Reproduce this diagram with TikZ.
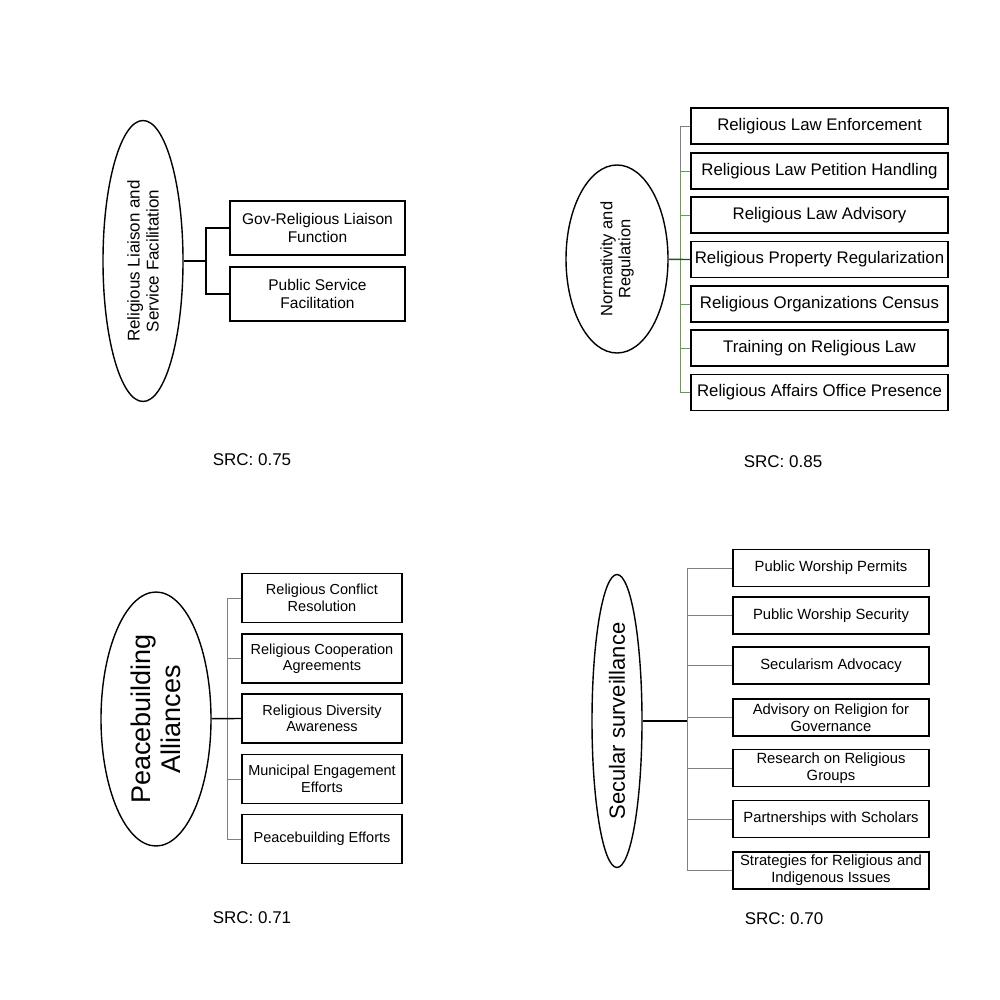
\documentclass[tikz,border=0pt]{standalone}
\usepackage{fontspec}
\setmainfont{Liberation Sans}
\usetikzlibrary{shapes.geometric}
\definecolor{treegreen}{RGB}{96,160,70}
\definecolor{treedark}{RGB}{40,80,40}

\begin{document}
\begin{tikzpicture}[x=1pt,y=-1pt]
\tikzstyle{topic}=[draw=black,line width=1.4pt,ellipse,inner sep=0pt,rotate=90,align=center]
\tikzstyle{item}=[draw=black,line width=1.8pt,rectangle,inner sep=0pt,align=center]
\tikzstyle{trunk}=[line width=1.4pt]
\tikzstyle{branch}=[line width=0.8pt,draw=gray]
\tikzstyle{score}=[font=\fontsize{17}{20}\selectfont]
\useasboundingbox[fill=white] (0,0) rectangle (1000,1000);

% liaison
\node[topic,minimum width=281,minimum height=80,font=\fontsize{17}{19}\selectfont] (liaison) at (143,261) {Religious Liaison and\\Service Facilitation};
\coordinate (fork1) at (206,261);
\draw[trunk] (liaison) -- (fork1);
\foreach \name/\y/\txt in {govliaison/228/Gov-Religious Liaison\\Function, pubservice/294/Public Service\\Facilitation}
{
\node[item,minimum width=175,minimum height=54,font=\fontsize{15.5}{18}\selectfont] (\name) at (317.5,\y) {\txt};
\draw[trunk] (fork1) |- (\name.west);
}
\node[score] (src1) at (252,460) {SRC: 0.75};

% normativity
\node[topic,minimum width=188,minimum height=102,font=\fontsize{16.5}{18}\selectfont] (norm) at (617,259) {Normativity and\\Regulation};
\coordinate (fork2) at (680,259.5);
\foreach \name/\y/\txt in {lawenf/126/Religious Law Enforcement, petition/171/Religious Law Petition Handling, advisory/215/Religious Law Advisory, property/259.5/Religious Property Regularization, census/304/Religious Organizations Census, training/348/Training on Religious Law, office/392.5/Religious Affairs Office Presence}
{
\node[item,minimum width=257,minimum height=36,font=\fontsize{16.8}{18}\selectfont] (\name) at (819.5,\y) {\txt};
}
\foreach \name in {petition,advisory,census,training,office}
\draw[branch,treegreen] (fork2) |- (\name.west);
\draw[branch] (petition.west -| fork2) |- (lawenf.west);
\draw[trunk,treedark] (norm) -- (property.west);
\node[score] (src2) at (783,462) {SRC: 0.85};

% peacebuilding
\node[topic,minimum width=254,minimum height=110,font=\fontsize{27}{30}\selectfont] (peace) at (156,719) {Peacebuilding\\Alliances};
\coordinate (fork3) at (227,719);
\foreach \name/\y/\txt in {conflict/598/Religious Conflict\\Resolution, coop/658.5/Religious Cooperation\\Agreements, diversity/718.5/Religious Diversity\\Awareness, municipal/779/Municipal Engagement\\Efforts, peaceeff/839/Peacebuilding Efforts}
{
\node[item,minimum width=160,minimum height=49,font=\fontsize{14.5}{16.5}\selectfont] (\name) at (322,\y) {\txt};
\draw[branch] (fork3) |- (\name.west);
}
\draw[trunk] (peace) -- (diversity.west);
\node[score] (src3) at (252,918) {SRC: 0.71};

% secular
\node[topic,minimum width=293,minimum height=50,font=\fontsize{22}{24}\selectfont] (secular) at (617,721) {Secular surveillance};
\coordinate (fork4) at (687,721);
\draw[trunk] (secular) -- (fork4);
\foreach \name/\y/\txt in {permits/568/Public Worship Permits, security/615.5/Public Worship Security, secularism/665.5/Secularism Advocacy, govern/717.5/Advisory on Religion for\\Governance, research/768/Research on Religious\\Groups, scholars/819/Partnerships with Scholars, strategies/870.5/Strategies for Religious and\\Indigenous Issues}
{
\node[item,minimum width=196,minimum height=37,font=\fontsize{14.8}{17}\selectfont] (\name) at (831,\y) {\txt};
\draw[branch] (fork4) |- (\name.west);
}
\node[score] (src4) at (784,919) {SRC: 0.70};
\end{tikzpicture}
\end{document}
